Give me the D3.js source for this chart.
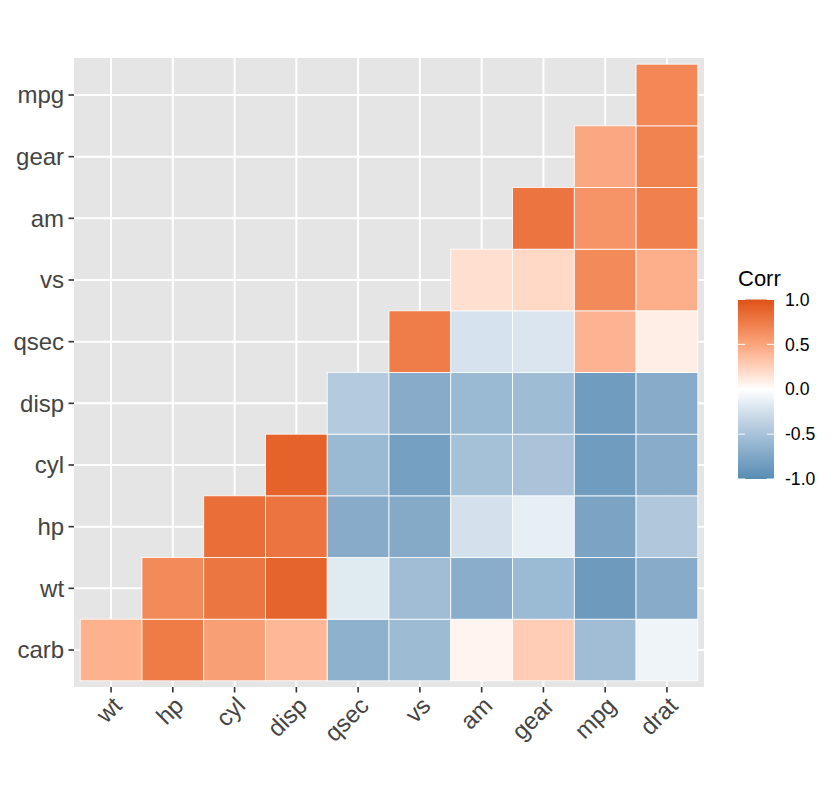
<!DOCTYPE html>
<html>
<head>
<meta charset="utf-8">
<script src="https://cdn.jsdelivr.net/npm/d3@7"></script>
<style>
  body { margin: 0; background: #fff; }
  text { font-family: "Liberation Sans", Arial, Helvetica, sans-serif; }
</style>
</head>
<body>
<div id="main"></div>
<script>
// variable order (hclust order, lower triangle)
const xVars = ["wt", "hp", "cyl", "disp", "qsec", "vs", "am", "gear", "mpg", "drat"];
const yVars = ["carb", "wt", "hp", "cyl", "disp", "qsec", "vs", "am", "gear", "mpg"];

// correlations per row, starting at the column with the same index as the row
const rowCarb = [0.43, 0.75, 0.53, 0.39, -0.66, -0.57, 0.06, 0.27, -0.55, -0.09];
const rowWt   = [0.66, 0.78, 0.89, -0.17, -0.55, -0.69, -0.58, -0.87, -0.71];
const rowHp   = [0.83, 0.79, -0.71, -0.72, -0.24, -0.13, -0.78, -0.45];
const rowCyl  = [0.90, -0.59, -0.81, -0.52, -0.49, -0.85, -0.70];
const rowDisp = [-0.43, -0.71, -0.59, -0.56, -0.85, -0.71];
const rowQsec = [0.74, -0.23, -0.21, 0.42, 0.09];
const rowVs   = [0.17, 0.21, 0.66, 0.44];
const rowAm   = [0.79, 0.60, 0.71];
const rowGear = [0.48, 0.70];
const rowMpg  = [0.68];

const legendTicks = [1.0, 0.5, 0.0, -0.5, -1.0];

const rows = [rowCarb, rowWt, rowHp, rowCyl, rowDisp, rowQsec, rowVs, rowAm, rowGear, rowMpg];
let cells = [];
rows.forEach(function (r, i) {
    r.forEach(function (v, k) {
        cells.push({ y: yVars[i], x: xVars[i + k], value: v });
    });
});

const W = 840, H = 810;
const panel = { left: 74, right: 704, top: 58, bottom: 687 };

const svg = d3.select("#main")
    .append("svg")
    .attr("width", W)
    .attr("height", H);

// gradient2: low / mid / high, Lab interpolation like ggplot
const baseFill = d3.scaleLinear()
    .domain([-1, 0, 1])
    .range(["#6D9EC1", "#FFFFFF", "#E46726"])
    .interpolate(d3.interpolateLab);

// the picture is a bit darker in the mid tones than plain sRGB, so deepen it
function fill(v) {
    const c = d3.rgb(baseFill(v));
    const g = 1.25;
    return d3.rgb(
        255 * Math.pow(c.r / 255, g),
        255 * Math.pow(c.g / 255, g),
        255 * Math.pow(c.b / 255, g)
    ).formatHex();
}

const x = d3.scaleBand()
    .domain(xVars)
    .range([panel.left, panel.right])
    .paddingInner(0)
    .paddingOuter(0.1);

const y = d3.scaleBand()
    .domain(yVars)
    .range([panel.bottom, panel.top])
    .paddingInner(0)
    .paddingOuter(0.1);

// panel background
svg.append("rect")
    .attr("x", panel.left)
    .attr("y", panel.top)
    .attr("width", panel.right - panel.left)
    .attr("height", panel.bottom - panel.top)
    .attr("fill", "#E5E5E5");

// grid lines
svg.append("g")
    .selectAll("line")
    .data(xVars)
    .join("line")
    .attr("x1", d => x(d) + x.bandwidth() / 2)
    .attr("x2", d => x(d) + x.bandwidth() / 2)
    .attr("y1", panel.top)
    .attr("y2", panel.bottom)
    .attr("stroke", "#fff")
    .attr("stroke-width", 2);

svg.append("g")
    .selectAll("line")
    .data(yVars)
    .join("line")
    .attr("y1", d => y(d) + y.bandwidth() / 2)
    .attr("y2", d => y(d) + y.bandwidth() / 2)
    .attr("x1", panel.left)
    .attr("x2", panel.right)
    .attr("stroke", "#fff")
    .attr("stroke-width", 2);

// tiles
svg.append("g")
    .selectAll("rect")
    .data(cells)
    .join("rect")
    .attr("x", d => x(d.x))
    .attr("y", d => y(d.y))
    .attr("width", x.bandwidth())
    .attr("height", y.bandwidth())
    .attr("fill", d => fill(d.value))
    .attr("stroke", "#fff")
    .attr("stroke-width", 0.8);

// y axis
const yAxis = svg.append("g")
    .attr("transform", `translate(${panel.left},0)`)
    .call(d3.axisLeft(y).tickSize(5.5).tickPadding(4.4));
yAxis.select(".domain").remove();
yAxis.selectAll(".tick line").attr("stroke", "#333333").attr("stroke-width", 1.6);
yAxis.selectAll(".tick text")
    .attr("fill", "#444444")
    .style("font-size", "24px")
    .attr("dy", "0.35em");

// x axis
const xAxis = svg.append("g")
    .attr("transform", `translate(0,${panel.bottom})`)
    .call(d3.axisBottom(x).tickSize(5.5).tickFormat(""));
xAxis.select(".domain").remove();
xAxis.selectAll(".tick line").attr("stroke", "#333333").attr("stroke-width", 1.6);

svg.append("g")
    .selectAll("text")
    .data(xVars)
    .join("text")
    .attr("transform", d => `translate(${x(d) + x.bandwidth() / 2},${panel.bottom + 8})rotate(-45)`)
    .attr("text-anchor", "end")
    .attr("dy", "0.72em")
    .attr("fill", "#444444")
    .style("font-size", "24px")
    .text(d => d);

// legend
const leg = { x: 738, w: 36, top: 299.5, bottom: 479 };
const legY = d3.scaleLinear().domain([1, -1]).range([leg.top, leg.bottom]);

const defs = svg.append("defs");
const grad = defs.append("linearGradient")
    .attr("id", "corrGrad")
    .attr("x1", 0).attr("x2", 0).attr("y1", 0).attr("y2", 1);
grad.selectAll("stop")
    .data(d3.range(0, 41))
    .join("stop")
    .attr("offset", d => d / 40)
    .attr("stop-color", d => fill(1 - d / 20));

svg.append("rect")
    .attr("x", leg.x)
    .attr("y", leg.top)
    .attr("width", leg.w)
    .attr("height", leg.bottom - leg.top)
    .attr("fill", "url(#corrGrad)");

const legTickG = svg.append("g");
legendTicks.forEach(function (t) {
    legTickG.append("line")
        .attr("x1", leg.x).attr("x2", leg.x + leg.w / 5)
        .attr("y1", legY(t)).attr("y2", legY(t))
        .attr("stroke", "#fff").attr("stroke-width", 1);
    legTickG.append("line")
        .attr("x1", leg.x + leg.w - leg.w / 5).attr("x2", leg.x + leg.w)
        .attr("y1", legY(t)).attr("y2", legY(t))
        .attr("stroke", "#fff").attr("stroke-width", 1);
});

svg.append("g")
    .selectAll("text")
    .data(legendTicks)
    .join("text")
    .attr("x", 785)
    .attr("y", d => legY(d))
    .attr("dy", "0.35em")
    .attr("fill", "#000")
    .style("font-size", "17.6px")
    .text(d => d3.format(".1f")(d).replace("−", "-"));

svg.append("text")
    .attr("x", 738)
    .attr("y", 286)
    .attr("fill", "#000")
    .style("font-size", "22px")
    .text("Corr");
</script>
</body>
</html>
